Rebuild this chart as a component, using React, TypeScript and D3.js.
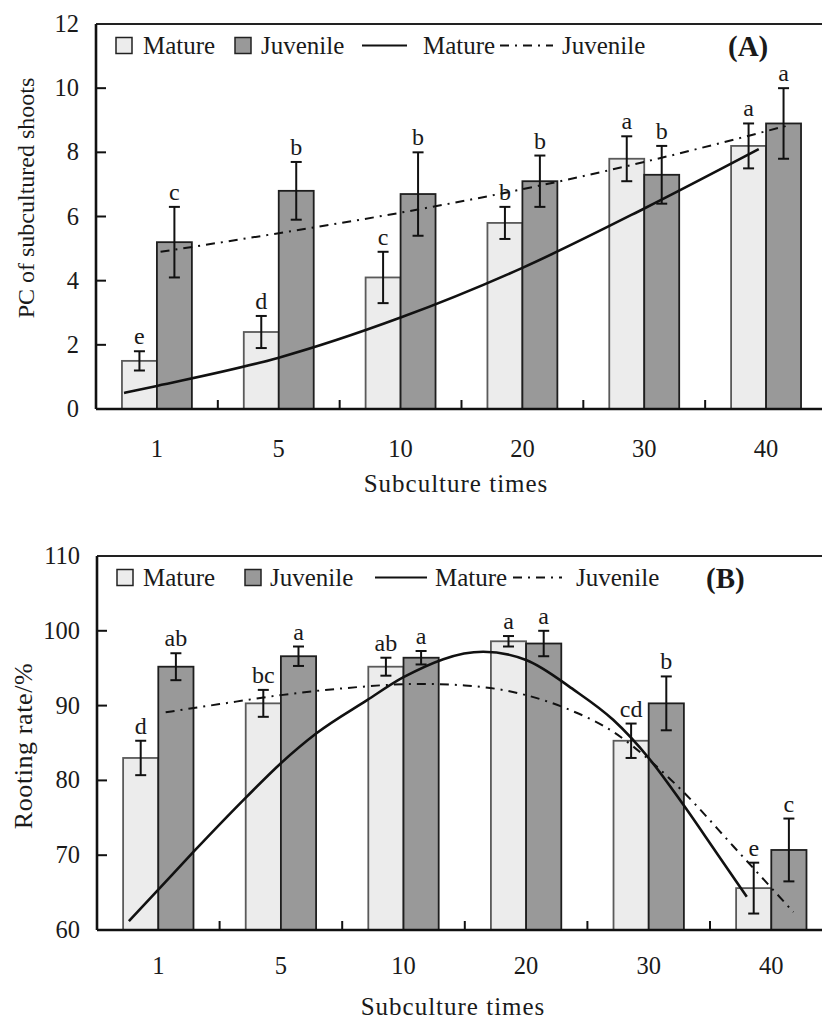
import React from "react";
import * as d3 from "d3";

// ---------- data ----------
const categories = ["1", "5", "10", "20", "30", "40"];

// Panel A: PC of subcultured shoots
const matureA = [1.5, 2.4, 4.1, 5.8, 7.8, 8.2];
const matureAErr = [0.3, 0.5, 0.8, 0.5, 0.7, 0.7];
const juvenileA = [5.2, 6.8, 6.7, 7.1, 7.3, 8.9];
const juvenileAErr = [1.1, 0.9, 1.3, 0.8, 0.9, 1.1];
const matureALetters = ["e", "d", "c", "b", "a", "a"];
const juvenileALetters = ["c", "b", "b", "b", "b", "a"];
// trend lines: [category index (0-based, fractional), value]
const matureATrend: [number, number][] = [
  [-0.27, 0.5], [0, 0.72], [1, 1.6], [2, 2.85], [3, 4.4], [4, 6.25], [4.94, 8.1],
];
const juvenileATrend: [number, number][] = [
  [0.03, 4.9], [1, 5.48], [2, 6.12], [3, 6.85], [4, 7.7], [4.84, 8.5], [5.17, 8.83],
];
const yTicksA = [0, 2, 4, 6, 8, 10, 12];

// Panel B: Rooting rate/%
const matureB = [83.0, 90.3, 95.2, 98.6, 85.3, 65.6];
const matureBErr = [2.3, 1.8, 1.2, 0.7, 2.3, 3.4];
const juvenileB = [95.2, 96.6, 96.4, 98.3, 90.3, 70.7];
const juvenileBErr = [1.8, 1.3, 0.9, 1.7, 3.6, 4.2];
const matureBLetters = ["d", "bc", "ab", "a", "cd", "e"];
const juvenileBLetters = ["ab", "a", "a", "a", "b", "c"];
const matureBTrend: [number, number][] = [
  [-0.24, 61.2], [0, 65.4], [0.29, 70.5], [0.72, 77.8], [1, 82.3], [1.29, 86.3],
  [1.7, 90.7], [2, 93.8], [2.65, 97.2], [3, 96.1], [3.39, 92.1], [3.71, 88.1],
  [4, 83.0], [4.28, 76.8], [4.55, 70.4], [4.8, 64.45],
];
const juvenileBTrend: [number, number][] = [
  [0.06, 89.1], [0.5, 90.2], [1, 91.4], [1.5, 92.3], [2.13, 92.9], [2.5, 92.7],
  [3, 91.4], [3.33, 89.6], [3.71, 86.5], [4, 82.8], [4.28, 78.5], [4.69, 71.2], [5.18, 62.4],
];
const yTicksB = [60, 70, 80, 90, 100, 110];

const FONT = "'Liberation Serif', 'Times New Roman', serif";
const MATURE_FILL = "#ececec";
const MATURE_STROKE = "#5a5a5a";
const JUV_FILL = "#999999";
const JUV_STROKE = "#1e1e1e";
const DASHDOT = "9,6,2,6";

type PanelProps = {
  left: number;
  top: number;
  bottom: number;
  band: number;
  yDomain: [number, number];
  yTicks: number[];
  mature: number[];
  matureErr: number[];
  juvenile: number[];
  juvenileErr: number[];
  matureLetters: string[];
  juvenileLetters: string[];
  matureTrend: [number, number][];
  juvenileTrend: [number, number][];
  yTitle: string;
  yTitleX: number;
  yTitleY: number;
  yTitleSize: number;
  yTitleSpacing: number;
  xLabelY: number;
  xTitleX: number;
  xTitleY: number;
  legendY: number;
  legend: { sw1: number; t1: number; sw2: number; t2: number; l1: [number, number]; t3: number; l2: [number, number]; t4: number; tag: number; tagText: string };
};

function Panel(p: PanelProps) {
  const right = p.left + p.band * categories.length;
  const x = d3.scaleBand<string>().domain(categories).range([p.left, right]).padding(0);
  const inner = d3
    .scaleBand<string>()
    .domain(["Mature", "Juvenile"])
    .range([p.band * 0.213, p.band * 0.787])
    .padding(0);
  const y = d3.scaleLinear().domain(p.yDomain).range([p.bottom, p.top]);
  const xc = d3
    .scaleLinear()
    .domain([0, 1])
    .range([p.left + p.band / 2, p.left + p.band * 1.5]);
  const line = d3
    .line<[number, number]>()
    .x((d) => xc(d[0]))
    .y((d) => y(d[1]))
    .curve(d3.curveMonotoneX);

  const series = [
    { key: "Mature", vals: p.mature, err: p.matureErr, letters: p.matureLetters, fill: MATURE_FILL, stroke: MATURE_STROKE },
    { key: "Juvenile", vals: p.juvenile, err: p.juvenileErr, letters: p.juvenileLetters, fill: JUV_FILL, stroke: JUV_STROKE },
  ];
  const bw = inner.bandwidth();
  const capHalf = 5.5;
  const L = p.legend;
  const swSize = 16;

  return (
    <g fontFamily={FONT} fill="#1a1a1a">
      {/* bars */}
      {series.map((s) =>
        categories.map((c, i) => {
          const x0 = (x(c) as number) + (inner(s.key) as number);
          return (
            <rect
              key={s.key + c}
              x={x0}
              y={y(s.vals[i])}
              width={bw}
              height={p.bottom - y(s.vals[i])}
              fill={s.fill}
              stroke={s.stroke}
              strokeWidth={1.8}
            />
          );
        })
      )}
      {/* trend lines */}
      <path d={line(p.matureTrend) || ""} fill="none" stroke="#111" strokeWidth={2.6} />
      <path d={line(p.juvenileTrend) || ""} fill="none" stroke="#111" strokeWidth={2} strokeDasharray={DASHDOT} />
      {/* error bars + letters */}
      {series.map((s) =>
        categories.map((c, i) => {
          const cx = (x(c) as number) + (inner(s.key) as number) + bw / 2;
          const yt = y(s.vals[i] + s.err[i]);
          const yb = y(s.vals[i] - s.err[i]);
          return (
            <g key={"e" + s.key + c}>
              <line x1={cx} x2={cx} y1={yt} y2={yb} stroke="#111" strokeWidth={2} />
              <line x1={cx - capHalf} x2={cx + capHalf} y1={yt} y2={yt} stroke="#111" strokeWidth={2} />
              <line x1={cx - capHalf} x2={cx + capHalf} y1={yb} y2={yb} stroke="#111" strokeWidth={2} />
              <text x={cx} y={yt - 7} textAnchor="middle" fontSize={24}>
                {s.letters[i]}
              </text>
            </g>
          );
        })
      )}
      {/* frame */}
      <line x1={p.left} x2={right + 10} y1={p.top} y2={p.top} stroke="#222" strokeWidth={2} />
      <line x1={p.left} x2={p.left} y1={p.top} y2={p.bottom} stroke="#111" strokeWidth={2.6} />
      <line x1={p.left} x2={right + 10} y1={p.bottom} y2={p.bottom} stroke="#111" strokeWidth={2.6} />
      {/* y ticks */}
      {p.yTicks.map((t) => (
        <g key={"yt" + t}>
          {t !== p.yDomain[0] && t !== p.yDomain[1] && (
            <line x1={p.left} x2={p.left + 10} y1={y(t)} y2={y(t)} stroke="#111" strokeWidth={2} />
          )}
          <text x={p.left - 17} y={y(t) + 8} textAnchor="end" fontSize={24.5}>
            {t}
          </text>
        </g>
      ))}
      {/* x ticks between categories */}
      {categories.slice(1).map((c) => (
        <line
          key={"xt" + c}
          x1={x(c) as number}
          x2={x(c) as number}
          y1={p.bottom}
          y2={p.bottom - 9}
          stroke="#111"
          strokeWidth={2}
        />
      ))}
      {categories.map((c) => (
        <text key={"xl" + c} x={(x(c) as number) + p.band / 2} y={p.xLabelY} textAnchor="middle" fontSize={24.5}>
          {c}
        </text>
      ))}
      {/* axis titles */}
      <text x={p.xTitleX} y={p.xTitleY} textAnchor="middle" fontSize={25} letterSpacing={1}>
        Subculture times
      </text>
      <text
        transform={`translate(${p.yTitleX},${p.yTitleY}) rotate(-90)`}
        textAnchor="middle"
        fontSize={p.yTitleSize}
        letterSpacing={p.yTitleSpacing}
      >
        {p.yTitle}
      </text>
      {/* legend */}
      <rect x={L.sw1} y={p.legendY - 8} width={swSize} height={swSize} fill={MATURE_FILL} stroke="#222" strokeWidth={1.5} />
      <text x={L.t1} y={p.legendY + 8} fontSize={25}>Mature</text>
      <rect x={L.sw2} y={p.legendY - 8} width={swSize} height={swSize} fill={JUV_FILL} stroke="#222" strokeWidth={1.5} />
      <text x={L.t2} y={p.legendY + 8} fontSize={25}>Juvenile</text>
      <line x1={L.l1[0]} x2={L.l1[1]} y1={p.legendY} y2={p.legendY} stroke="#111" strokeWidth={2} />
      <text x={L.t3} y={p.legendY + 8} fontSize={25}>Mature</text>
      <line x1={L.l2[0]} x2={L.l2[1]} y1={p.legendY} y2={p.legendY} stroke="#111" strokeWidth={2} strokeDasharray={DASHDOT} />
      <text x={L.t4} y={p.legendY + 8} fontSize={25}>Juvenile</text>
      <text x={L.tag} y={p.legendY + 10} fontSize={29} fontWeight="bold">{L.tagText}</text>
    </g>
  );
}

export default function App() {
  return (
    <svg
      width={822}
      height={1019}
      style={{ position: "absolute", left: 0, top: 0, background: "#fff", overflow: "hidden" }}
    >
      <rect x={0} y={0} width={822} height={1019} fill="#fff" />
      <Panel
        left={96}
        top={24}
        bottom={409}
        band={121.83}
        yDomain={[0, 12]}
        yTicks={yTicksA}
        mature={matureA}
        matureErr={matureAErr}
        juvenile={juvenileA}
        juvenileErr={juvenileAErr}
        matureLetters={matureALetters}
        juvenileLetters={juvenileALetters}
        matureTrend={matureATrend}
        juvenileTrend={juvenileATrend}
        yTitle="PC of subcultured shoots"
        yTitleX={34}
        yTitleY={198}
        yTitleSize={24}
        yTitleSpacing={0}
        xLabelY={457}
        xTitleX={456}
        xTitleY={492}
        legendY={45.5}
        legend={{ sw1: 116, t1: 143, sw2: 235, t2: 261, l1: [362, 407], t3: 423, l2: [500, 553], t4: 562, tag: 728, tagText: "(A)" }}
      />
      <Panel
        left={97}
        top={556}
        bottom={930}
        band={122.6}
        yDomain={[60, 110]}
        yTicks={yTicksB}
        mature={matureB}
        matureErr={matureBErr}
        juvenile={juvenileB}
        juvenileErr={juvenileBErr}
        matureLetters={matureBLetters}
        juvenileLetters={juvenileBLetters}
        matureTrend={matureBTrend}
        juvenileTrend={juvenileBTrend}
        yTitle="Rooting rate/%"
        yTitleX={32}
        yTitleY={746}
        yTitleSize={26}
        yTitleSpacing={0.6}
        xLabelY={974}
        xTitleX={453}
        xTitleY={1015}
        legendY={577.5}
        legend={{ sw1: 117, t1: 143, sw2: 245, t2: 270, l1: [375, 427], t3: 435, l2: [513, 562], t4: 576, tag: 706, tagText: "(B)" }}
      />
    </svg>
  );
}
